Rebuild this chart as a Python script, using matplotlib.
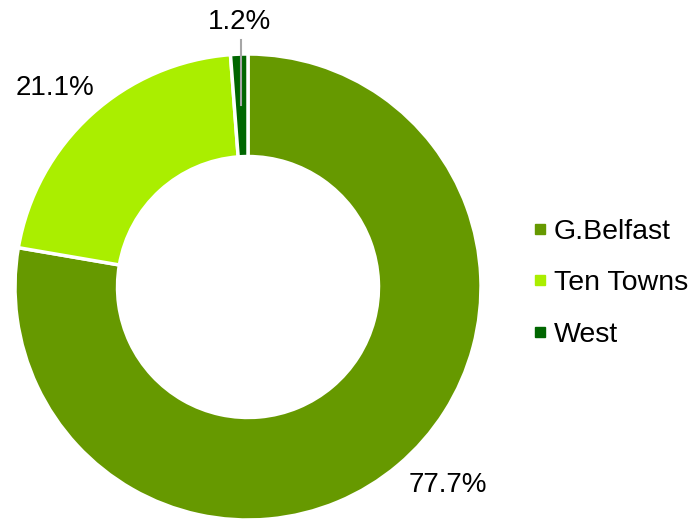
import matplotlib.pyplot as plt
from matplotlib.lines import Line2D

plt.rcParams['font.family'] = ['Liberation Sans', 'DejaVu Sans']

labels = ['G.Belfast', 'Ten Towns', 'West']
values = [77.7, 21.1, 1.2]
colors = ['#669900', '#aaee00', '#006600']

fig = plt.figure(figsize=(6.95, 5.19), dpi=100)
ax = fig.add_axes([0, 0, 1, 1])

cx, cy, r = 248, 232, 233
wedges, _ = ax.pie(values, colors=colors, startangle=90, counterclock=False,
                   center=(cx, cy), radius=r, frame=True,
                   wedgeprops=dict(width=r * 0.44, edgecolor='white', linewidth=2.5))
ax.set_xlim(0, 695)
ax.set_ylim(0, 519)
ax.set_aspect('equal')
ax.axis('off')

# percentage labels
ax.text(448, 34, '77.7%', fontsize=20, ha='center', va='center')
ax.text(55, 431, '21.1%', fontsize=20, ha='center', va='center')
ax.text(240, 497, '1.2%', fontsize=20, ha='center', va='center')
ax.plot([241, 241], [479, 414], color='#a6a6a6', lw=1.5)

handles = [Line2D([], [], ls='none', marker='s', markersize=6.5, color=c) for c in colors]
leg = ax.legend(handles, labels, loc='center left', bbox_to_anchor=(0.733, 0.454),
                frameon=False, fontsize=20.5, handlelength=0.33,
                handletextpad=0.33, labelspacing=0.9)
fig.savefig('out.png', dpi=100)
